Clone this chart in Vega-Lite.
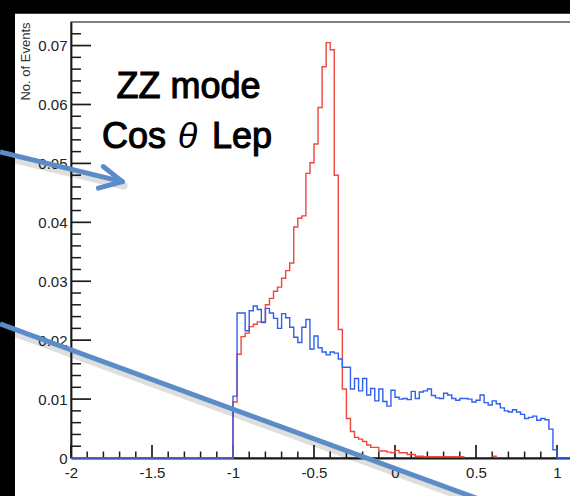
{
  "$schema": "https://vega.github.io/schema/vega-lite/v6.json",
  "width": 500,
  "height": 436,
  "autosize": {"type": "none"},
  "padding": {"left": 71, "top": 22, "right": 0, "bottom": 38},
  "background": "white",
  "config": {"view": {"stroke": "#555", "strokeWidth": 1.5}},
  "datasets": {
    "blue": [
      {"x": -2, "v": 0},
      {"x": -1.0, "v": 0.0105}, {"x": -0.975, "v": 0.0246}, {"x": -0.95, "v": 0.0246}, {"x": -0.925, "v": 0.0216},
      {"x": -0.9, "v": 0.025}, {"x": -0.875, "v": 0.0258}, {"x": -0.85, "v": 0.0252}, {"x": -0.825, "v": 0.023},
      {"x": -0.8, "v": 0.0254}, {"x": -0.775, "v": 0.0246}, {"x": -0.75, "v": 0.0237}, {"x": -0.725, "v": 0.022},
      {"x": -0.7, "v": 0.0245}, {"x": -0.675, "v": 0.0238}, {"x": -0.65, "v": 0.0222}, {"x": -0.625, "v": 0.0205},
      {"x": -0.6, "v": 0.0196}, {"x": -0.575, "v": 0.0222}, {"x": -0.55, "v": 0.0235}, {"x": -0.525, "v": 0.0185},
      {"x": -0.5, "v": 0.0207}, {"x": -0.475, "v": 0.0187}, {"x": -0.45, "v": 0.018}, {"x": -0.425, "v": 0.0175},
      {"x": -0.4, "v": 0.018}, {"x": -0.375, "v": 0.0178}, {"x": -0.35, "v": 0.0168}, {"x": -0.325, "v": 0.0154},
      {"x": -0.3, "v": 0.0154}, {"x": -0.275, "v": 0.0117}, {"x": -0.25, "v": 0.0135}, {"x": -0.225, "v": 0.0114},
      {"x": -0.2, "v": 0.0135}, {"x": -0.175, "v": 0.0107}, {"x": -0.15, "v": 0.0118}, {"x": -0.125, "v": 0.0097},
      {"x": -0.1, "v": 0.0117}, {"x": -0.075, "v": 0.0096}, {"x": -0.05, "v": 0.0088}, {"x": -0.025, "v": 0.0115},
      {"x": 0.0, "v": 0.0103}, {"x": 0.025, "v": 0.01}, {"x": 0.05, "v": 0.0101}, {"x": 0.075, "v": 0.0099},
      {"x": 0.1, "v": 0.0113}, {"x": 0.125, "v": 0.0101}, {"x": 0.15, "v": 0.0112}, {"x": 0.175, "v": 0.0114},
      {"x": 0.2, "v": 0.0117}, {"x": 0.225, "v": 0.0106}, {"x": 0.25, "v": 0.0102}, {"x": 0.275, "v": 0.0101},
      {"x": 0.3, "v": 0.011}, {"x": 0.325, "v": 0.0107}, {"x": 0.35, "v": 0.0101}, {"x": 0.375, "v": 0.0098},
      {"x": 0.4, "v": 0.0101}, {"x": 0.425, "v": 0.0101}, {"x": 0.45, "v": 0.01}, {"x": 0.475, "v": 0.0095},
      {"x": 0.5, "v": 0.0098}, {"x": 0.525, "v": 0.0107}, {"x": 0.55, "v": 0.0094}, {"x": 0.575, "v": 0.009},
      {"x": 0.6, "v": 0.0097}, {"x": 0.625, "v": 0.0092}, {"x": 0.65, "v": 0.0085}, {"x": 0.675, "v": 0.008},
      {"x": 0.7, "v": 0.0078}, {"x": 0.725, "v": 0.0082}, {"x": 0.75, "v": 0.0078}, {"x": 0.775, "v": 0.0074},
      {"x": 0.8, "v": 0.0067}, {"x": 0.825, "v": 0.0069}, {"x": 0.85, "v": 0.0071}, {"x": 0.875, "v": 0.0064},
      {"x": 0.9, "v": 0.0067}, {"x": 0.925, "v": 0.0065}, {"x": 0.95, "v": 0.0049}, {"x": 0.975, "v": 0.0014},
      {"x": 1.0, "v": 0}, {"x": 1.1, "v": 0}
    ],
    "red": [
      {"x": -2, "v": 0, "seg": 1},
      {"x": -1.0, "v": 0.0095, "seg": 1}, {"x": -0.975, "v": 0.0176, "seg": 1}, {"x": -0.95, "v": 0.0206, "seg": 1},
      {"x": -0.925, "v": 0.0212, "seg": 1}, {"x": -0.9, "v": 0.0223, "seg": 1}, {"x": -0.875, "v": 0.0227, "seg": 1},
      {"x": -0.85, "v": 0.0231, "seg": 1}, {"x": -0.825, "v": 0.0231, "seg": 1}, {"x": -0.8, "v": 0.026, "seg": 1},
      {"x": -0.775, "v": 0.0271, "seg": 1}, {"x": -0.75, "v": 0.0283, "seg": 1}, {"x": -0.725, "v": 0.029, "seg": 1},
      {"x": -0.7, "v": 0.0305, "seg": 1}, {"x": -0.675, "v": 0.0318, "seg": 1}, {"x": -0.65, "v": 0.0331, "seg": 1},
      {"x": -0.625, "v": 0.0392, "seg": 1}, {"x": -0.6, "v": 0.0407, "seg": 1}, {"x": -0.575, "v": 0.0411, "seg": 1},
      {"x": -0.55, "v": 0.0483, "seg": 1}, {"x": -0.525, "v": 0.0501, "seg": 1}, {"x": -0.5, "v": 0.0533, "seg": 1},
      {"x": -0.475, "v": 0.0595, "seg": 1}, {"x": -0.45, "v": 0.0664, "seg": 1}, {"x": -0.425, "v": 0.0705, "seg": 1},
      {"x": -0.4, "v": 0.0693, "seg": 1}, {"x": -0.375, "v": 0.048, "seg": 1}, {"x": -0.35, "v": 0.0218, "seg": 1},
      {"x": -0.325, "v": 0.0117, "seg": 1}, {"x": -0.3, "v": 0.0067, "seg": 1}, {"x": -0.275, "v": 0.0045, "seg": 1},
      {"x": -0.25, "v": 0.0035, "seg": 1}, {"x": -0.225, "v": 0.0032, "seg": 1}, {"x": -0.2, "v": 0.0028, "seg": 1},
      {"x": -0.175, "v": 0.0022, "seg": 1}, {"x": -0.15, "v": 0.0018, "seg": 1}, {"x": -0.125, "v": 0.0018, "seg": 1},
      {"x": -0.1, "v": 0.0012, "seg": 1}, {"x": -0.075, "v": 0.0012, "seg": 1}, {"x": -0.05, "v": 0.001, "seg": 1},
      {"x": -0.025, "v": 0.0009, "seg": 1}, {"x": 0.0, "v": 0.0013, "seg": 1}, {"x": 0.025, "v": 0.0009, "seg": 1},
      {"x": 0.05, "v": 0.0009, "seg": 1}, {"x": 0.075, "v": 0.0006, "seg": 1}, {"x": 0.1, "v": 0.0006, "seg": 1},
      {"x": 0.125, "v": 0.0003, "seg": 1}, {"x": 0.15, "v": 0.0003, "seg": 1}, {"x": 0.175, "v": 0.0002, "seg": 1},
      {"x": 0.2, "v": 0.0002, "seg": 1}, {"x": 0.225, "v": 0.0002, "seg": 1}, {"x": 0.25, "v": 0.0002, "seg": 1},
      {"x": 0.275, "v": 0.0002, "seg": 1}, {"x": 0.3, "v": 0.0002, "seg": 1}, {"x": 0.325, "v": 0.0002, "seg": 1},
      {"x": 0.35, "v": 0.0002, "seg": 1}, {"x": 0.375, "v": 0.0002, "seg": 1}, {"x": 0.4, "v": 0.0002, "seg": 1},
      {"x": 0.425, "v": 0, "seg": 1},
      {"x": 0.6, "v": 0.0003, "seg": 2}, {"x": 0.625, "v": 0, "seg": 2}
    ],
    "xmajor": [{"t": -2}, {"t": -1.5}, {"t": -1}, {"t": -0.5}, {"t": 0}, {"t": 0.5}, {"t": 1}],
    "xminor": [{"t": -1.9}, {"t": -1.8}, {"t": -1.7}, {"t": -1.6}, {"t": -1.4}, {"t": -1.3}, {"t": -1.2}, {"t": -1.1}, {"t": -0.9}, {"t": -0.8}, {"t": -0.7}, {"t": -0.6}, {"t": -0.4}, {"t": -0.3}, {"t": -0.2}, {"t": -0.1}, {"t": 0.1}, {"t": 0.2}, {"t": 0.3}, {"t": 0.4}, {"t": 0.6}, {"t": 0.7}, {"t": 0.8}, {"t": 0.9}],
    "ymajor": [{"t": 0.01}, {"t": 0.02}, {"t": 0.03}, {"t": 0.04}, {"t": 0.05}, {"t": 0.06}, {"t": 0.07}],
    "yminor": [{"t": 0.002}, {"t": 0.004}, {"t": 0.006}, {"t": 0.008}, {"t": 0.012}, {"t": 0.014}, {"t": 0.016}, {"t": 0.018}, {"t": 0.022}, {"t": 0.024}, {"t": 0.026}, {"t": 0.028}, {"t": 0.032}, {"t": 0.034}, {"t": 0.036}, {"t": 0.038}, {"t": 0.042}, {"t": 0.044}, {"t": 0.046}, {"t": 0.048}, {"t": 0.052}, {"t": 0.054}, {"t": 0.056}, {"t": 0.058}, {"t": 0.062}, {"t": 0.064}, {"t": 0.066}, {"t": 0.068}, {"t": 0.072}]
  },
  "layer": [
    {
      "data": {"values": [{}]},
      "mark": {"type": "rect", "color": "black"},
      "encoding": {
        "x": {"datum": -2.7, "type": "quantitative", "axis": null, "scale": {"domain": [-2, 1.0864], "nice": false, "zero": false}},
        "x2": {"datum": -2.3457},
        "y": {"datum": -0.02, "type": "quantitative", "axis": null, "scale": {"domain": [0, 0.074], "nice": false, "zero": false}},
        "y2": {"datum": 0.09}
      }
    },
    {
      "data": {"values": [{}]},
      "mark": {"type": "rect", "color": "black"},
      "encoding": {
        "x": {"datum": -2.7, "type": "quantitative", "axis": null, "scale": {"domain": [-2, 1.0864], "nice": false, "zero": false}},
        "x2": {"datum": 1.3},
        "y": {"datum": 0.07538, "type": "quantitative", "axis": null, "scale": {"domain": [0, 0.074], "nice": false, "zero": false}},
        "y2": {"datum": 0.09}
      }
    },
    {
      "data": {"name": "xmajor"},
      "mark": {"type": "rule", "color": "#1a1a1a", "strokeWidth": 1.7},
      "encoding": {
        "x": {"field": "t", "type": "quantitative", "axis": null, "scale": {"domain": [-2, 1.0864], "nice": false, "zero": false}},
        "y": {"datum": 0, "type": "quantitative", "axis": null, "scale": {"domain": [0, 0.074], "nice": false, "zero": false}},
        "y2": {"datum": 0.0022}
      }
    },
    {
      "data": {"name": "xminor"},
      "mark": {"type": "rule", "color": "#1a1a1a", "strokeWidth": 1.5},
      "encoding": {
        "x": {"field": "t", "type": "quantitative", "axis": null, "scale": {"domain": [-2, 1.0864], "nice": false, "zero": false}},
        "y": {"datum": 0, "type": "quantitative", "axis": null, "scale": {"domain": [0, 0.074], "nice": false, "zero": false}},
        "y2": {"datum": 0.0011}
      }
    },
    {
      "data": {"name": "ymajor"},
      "mark": {"type": "rule", "color": "#1a1a1a", "strokeWidth": 1.7},
      "encoding": {
        "y": {"field": "t", "type": "quantitative", "axis": null, "scale": {"domain": [0, 0.074], "nice": false, "zero": false}},
        "x": {"datum": -2, "type": "quantitative", "axis": null, "scale": {"domain": [-2, 1.0864], "nice": false, "zero": false}},
        "x2": {"datum": -1.8765}
      }
    },
    {
      "data": {"name": "yminor"},
      "mark": {"type": "rule", "color": "#1a1a1a", "strokeWidth": 1.5},
      "encoding": {
        "y": {"field": "t", "type": "quantitative", "axis": null, "scale": {"domain": [0, 0.074], "nice": false, "zero": false}},
        "x": {"datum": -2, "type": "quantitative", "axis": null, "scale": {"domain": [-2, 1.0864], "nice": false, "zero": false}},
        "x2": {"datum": -1.9383}
      }
    },
    {
      "data": {"name": "red"},
      "mark": {"type": "line", "interpolate": "step-after", "color": "#f0473c", "strokeWidth": 1.4},
      "encoding": {
        "x": {
          "field": "x", "type": "quantitative",
          "scale": {"domain": [-2, 1.0864], "nice": false, "zero": false},
          "axis": {
            "orient": "bottom",
            "values": [-2, -1.5, -1, -0.5, 0, 0.5, 1],
            "labelExpr": "'' + datum.value",
            "title": null, "ticks": false, "grid": false,
            "domainColor": "#1a1a1a", "domainWidth": 1.8,
            "labelPadding": 7, "labelFlush": false, "labelOverlap": false,
            "labelFont": "Liberation Sans", "labelFontSize": 15, "labelColor": "#222"
          }
        },
        "y": {
          "field": "v", "type": "quantitative",
          "scale": {"domain": [0, 0.074], "nice": false, "zero": false},
          "axis": {
            "orient": "left",
            "values": [0, 0.01, 0.02, 0.03, 0.04, 0.05, 0.06, 0.07],
            "labelExpr": "'' + datum.value",
            "ticks": false, "grid": false,
            "domainColor": "#1a1a1a", "domainWidth": 1.8,
            "labelPadding": 4, "labelFlush": false, "labelOverlap": false,
            "labelFont": "Liberation Sans", "labelFontSize": 15, "labelColor": "#222",
            "title": "No. of Events",
            "titleFont": "Liberation Sans", "titleFontSize": 13, "titleFontWeight": "normal", "titleColor": "#333",
            "titleAngle": -90, "titleAlign": "right", "titleBaseline": "bottom", "titleX": -39, "titleY": 0
          }
        },
        "detail": {"field": "seg"}
      }
    },
    {
      "data": {"name": "blue"},
      "mark": {"type": "line", "interpolate": "step-after", "color": "#2f5ff0", "strokeWidth": 1.4},
      "encoding": {
        "x": {"field": "x", "type": "quantitative", "axis": null, "scale": {"domain": [-2, 1.0864], "nice": false, "zero": false}},
        "y": {"field": "v", "type": "quantitative", "axis": null, "scale": {"domain": [0, 0.074], "nice": false, "zero": false}}
      }
    },
    {
      "data": {"values": [{}]},
      "mark": {"type": "text", "text": "ZZ mode", "font": "Liberation Sans", "fontSize": 36, "fontWeight": "normal", "stroke": "black", "strokeWidth": 1.1, "align": "center", "baseline": "alphabetic", "color": "black"},
      "encoding": {
        "x": {"datum": -1.275, "type": "quantitative", "axis": null, "scale": {"domain": [-2, 1.0864], "nice": false, "zero": false}},
        "y": {"datum": 0.06107, "type": "quantitative", "axis": null, "scale": {"domain": [0, 0.074], "nice": false, "zero": false}}
      }
    },
    {
      "data": {"values": [{}]},
      "mark": {"type": "text", "text": "Cos", "font": "Liberation Sans", "fontSize": 36, "fontWeight": "normal", "stroke": "black", "strokeWidth": 1.1, "align": "left", "baseline": "alphabetic", "color": "black"},
      "encoding": {
        "x": {"datum": -1.809, "type": "quantitative", "axis": null, "scale": {"domain": [-2, 1.0864], "nice": false, "zero": false}},
        "y": {"datum": 0.05263, "type": "quantitative", "axis": null, "scale": {"domain": [0, 0.074], "nice": false, "zero": false}}
      }
    },
    {
      "data": {"values": [{}]},
      "mark": {"type": "text", "text": "θ", "font": "Liberation Sans", "fontSize": 36, "fontStyle": "italic", "fontWeight": "normal", "align": "center", "baseline": "alphabetic", "color": "black"},
      "encoding": {
        "x": {"datum": -1.281, "type": "quantitative", "axis": null, "scale": {"domain": [-2, 1.0864], "nice": false, "zero": false}},
        "y": {"datum": 0.05263, "type": "quantitative", "axis": null, "scale": {"domain": [0, 0.074], "nice": false, "zero": false}}
      }
    },
    {
      "data": {"values": [{}]},
      "mark": {"type": "text", "text": "Lep", "font": "Liberation Sans", "fontSize": 36, "fontWeight": "normal", "stroke": "black", "strokeWidth": 1.1, "align": "left", "baseline": "alphabetic", "color": "black"},
      "encoding": {
        "x": {"datum": -1.13, "type": "quantitative", "axis": null, "scale": {"domain": [-2, 1.0864], "nice": false, "zero": false}},
        "y": {"datum": 0.05263, "type": "quantitative", "axis": null, "scale": {"domain": [0, 0.074], "nice": false, "zero": false}}
      }
    },
    {
      "data": {"values": [{}]},
      "mark": {"type": "rule", "color": "#000000", "opacity": 0.13, "strokeWidth": 8, "strokeCap": "round"},
      "encoding": {
        "x": {"datum": -2.43, "type": "quantitative", "axis": null, "scale": {"domain": [-2, 1.0864], "nice": false, "zero": false}},
        "y": {"datum": 0.05125, "type": "quantitative", "axis": null, "scale": {"domain": [0, 0.074], "nice": false, "zero": false}},
        "x2": {"datum": -1.675},
        "y2": {"datum": 0.04621}
      }
    },
    {
      "data": {"values": [{}]},
      "mark": {"type": "rule", "color": "#000000", "opacity": 0.13, "strokeWidth": 8, "strokeCap": "round"},
      "encoding": {
        "x": {"datum": -2.43, "type": "quantitative", "axis": null, "scale": {"domain": [-2, 1.0864], "nice": false, "zero": false}},
        "y": {"datum": 0.02205, "type": "quantitative", "axis": null, "scale": {"domain": [0, 0.074], "nice": false, "zero": false}},
        "x2": {"datum": 0.533},
        "y2": {"datum": -0.00775}
      }
    },
    {
      "data": {"values": [{}]},
      "mark": {"type": "rule", "color": "#5b8cc8", "strokeWidth": 5, "strokeCap": "butt"},
      "encoding": {
        "x": {"datum": -2.438, "type": "quantitative", "axis": null, "scale": {"domain": [-2, 1.0864], "nice": false, "zero": false}},
        "y": {"datum": 0.05195, "type": "quantitative", "axis": null, "scale": {"domain": [0, 0.074], "nice": false, "zero": false}},
        "x2": {"datum": -1.685},
        "y2": {"datum": 0.04691}
      }
    },
    {
      "data": {"values": [{}]},
      "mark": {"type": "rule", "color": "#5b8cc8", "strokeWidth": 5, "strokeCap": "round"},
      "encoding": {
        "x": {"datum": -1.801, "type": "quantitative", "axis": null, "scale": {"domain": [-2, 1.0864], "nice": false, "zero": false}},
        "y": {"datum": 0.04946, "type": "quantitative", "axis": null, "scale": {"domain": [0, 0.074], "nice": false, "zero": false}},
        "x2": {"datum": -1.683},
        "y2": {"datum": 0.04691}
      }
    },
    {
      "data": {"values": [{}]},
      "mark": {"type": "rule", "color": "#5b8cc8", "strokeWidth": 5, "strokeCap": "round"},
      "encoding": {
        "x": {"datum": -1.831, "type": "quantitative", "axis": null, "scale": {"domain": [-2, 1.0864], "nice": false, "zero": false}},
        "y": {"datum": 0.04579, "type": "quantitative", "axis": null, "scale": {"domain": [0, 0.074], "nice": false, "zero": false}},
        "x2": {"datum": -1.683},
        "y2": {"datum": 0.04691}
      }
    },
    {
      "data": {"values": [{}]},
      "mark": {"type": "rule", "color": "#5b8cc8", "strokeWidth": 5, "strokeCap": "butt"},
      "encoding": {
        "x": {"datum": -2.438, "type": "quantitative", "axis": null, "scale": {"domain": [-2, 1.0864], "nice": false, "zero": false}},
        "y": {"datum": 0.02275, "type": "quantitative", "axis": null, "scale": {"domain": [0, 0.074], "nice": false, "zero": false}},
        "x2": {"datum": 0.5247},
        "y2": {"datum": -0.00705}
      }
    }
  ],
  "resolve": {"axis": {"x": "independent", "y": "independent"}}
}
